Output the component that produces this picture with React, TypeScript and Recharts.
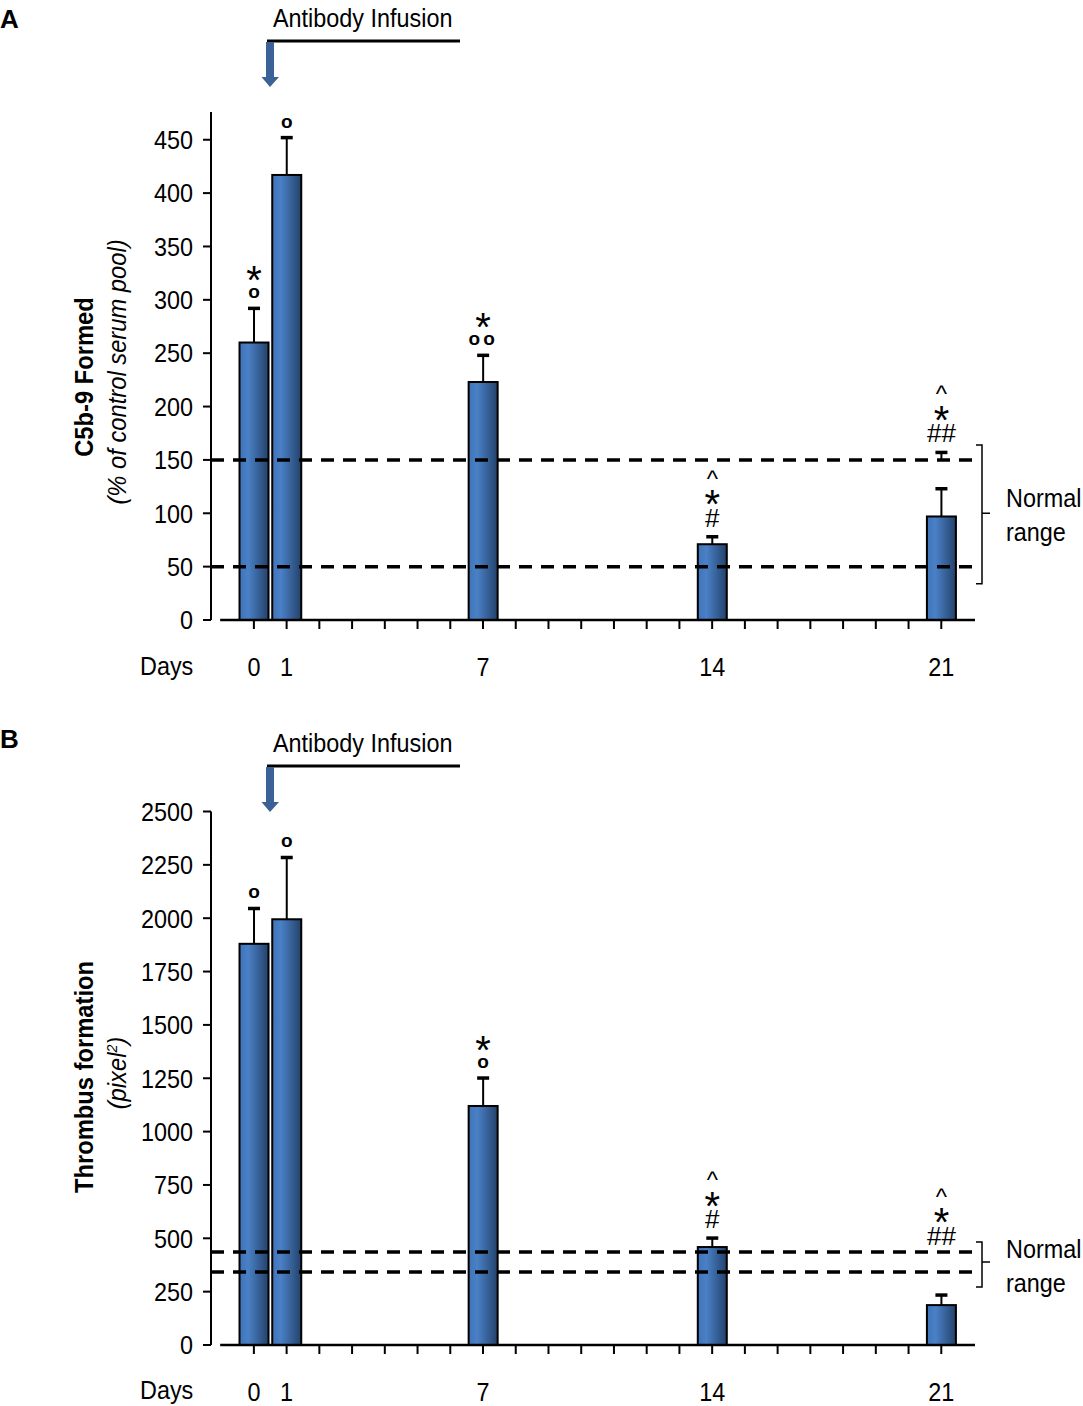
import React from 'react';
import { ComposedChart, Bar, XAxis, YAxis, ReferenceLine } from 'recharts';

const SANS = "'Liberation Sans', Arial, sans-serif";
const SQUEEZE = 0.9; // no narrow face installed, so squeeze Liberation Sans

// x axis
const days = [0, 1, 7, 14, 21];
const dayTicks = [0, 1, 2, 3, 4, 5, 6, 7, 8, 9, 10, 11, 12, 13, 14, 15, 16, 17, 18, 19, 20, 21];
const labeledDays = [0, 1, 7, 14, 21];

// panel A: C5b-9
const c5b9Mean = [260, 417, 223, 71, 97];
const c5b9Sem = [32, 35, 25, 7, 26];
const c5b9Marks = [['*', 'o'], ['o'], ['*', 'oo'], ['^', '*', '#'], ['^', '*', '##']];
const c5b9MarkBase = [292, 452, 248, 78, 157];
const c5b9ExtraCap = [null, null, null, null, 157];
const c5b9Normal = [50, 150];
const c5b9Ticks = [0, 50, 100, 150, 200, 250, 300, 350, 400, 450];

// panel B: thrombus
const thrombusMean = [1880, 1995, 1120, 459, 187];
const thrombusSem = [166, 290, 131, 42, 47];
const thrombusMarks = [['o'], ['o'], ['*', 'o'], ['^', '*', '#'], ['^', '*', '##']];
const thrombusMarkBase = [2046, 2285, 1251, 501, 422];
const thrombusExtraCap = [null, null, null, null, null];
const thrombusNormal = [342, 436];
const thrombusTicks = [0, 250, 500, 750, 1000, 1250, 1500, 1750, 2000, 2250, 2500];

type NTextProps = {
  x: number;
  y: number;
  children: React.ReactNode;
  size?: number;
  sx?: number;
  anchor?: 'start' | 'middle' | 'end';
  weight?: number;
  italic?: boolean;
  rotate?: boolean;
};

const NText = ({ x, y, children, size = 26, sx = SQUEEZE, anchor = 'start', weight = 400, italic, rotate }: NTextProps) => (
  <text
    transform={`translate(${x},${y})${rotate ? ' rotate(-90)' : ''} scale(${sx},1)`}
    textAnchor={anchor}
    fontSize={size}
    fontWeight={weight}
    fontStyle={italic ? 'italic' : 'normal'}
    fontFamily={SANS}
    fill="#000"
  >
    {children}
  </text>
);

const YTick = (props: any) => {
  const { x, y, payload } = props;
  return <NText x={x} y={y + 9.3} anchor="end">{payload.value}</NText>;
};

const XTick = (props: any) => {
  const { x, y, payload } = props;
  if (!labeledDays.includes(payload.value)) return <g />;
  return <NText x={x} y={y + 19} anchor="middle">{payload.value}</NText>;
};

const glyphStyle = (g: string) => {
  if (g === 'o' || g === 'oo') return { fontSize: 19, fontWeight: 700, shift: 5, first: 15 };
  if (g === '*') return { fontSize: 40, fontWeight: 400, shift: 22, first: 18 };
  if (g === '^') return { fontSize: 24, fontWeight: 400, shift: 12, first: 18 };
  return { fontSize: 26, fontWeight: 400, shift: 9, first: 19 };
};

const makeBarShape = (gradId: string) => (props: any) => {
  const { x, y, width, height, payload } = props;
  const ppu = height / payload.mean;
  const cx = x + width / 2;
  const zeroY = y + height;
  const errTop = y - payload.sem * ppu;
  const base = zeroY - payload.markBase * ppu;
  const marks: string[] = [...payload.marks].reverse();
  const first = glyphStyle(marks[0]).first;
  const extraY = payload.extraCap != null ? zeroY - payload.extraCap * ppu : 0;
  return (
    <g>
      <defs>
        <linearGradient id={gradId} x1="0" y1="0" x2="1" y2="0">
          <stop offset="0%" stopColor="#3f74b8" />
          <stop offset="30%" stopColor="#4a80c6" />
          <stop offset="100%" stopColor="#23426a" />
        </linearGradient>
      </defs>
      <line x1={cx} y1={y} x2={cx} y2={errTop} stroke="#000" strokeWidth={2} />
      <line x1={cx - 6} y1={errTop} x2={cx + 6} y2={errTop} stroke="#000" strokeWidth={3.5} />
      {payload.extraCap != null && (
        <g>
          <line x1={cx} y1={extraY} x2={cx} y2={extraY + 8} stroke="#000" strokeWidth={2} />
          <line x1={cx - 6} y1={extraY} x2={cx + 6} y2={extraY} stroke="#000" strokeWidth={3.5} />
        </g>
      )}
      <rect x={x} y={y} width={width} height={height} fill={`url(#${gradId})`} stroke="#000" strokeWidth={2} />
      {marks.map((g, i) => {
        const s = glyphStyle(g);
        const c = base - first - i * 21.5;
        return (
          <text
            key={i}
            x={cx}
            y={c + s.shift}
            textAnchor="middle"
            fontSize={s.fontSize}
            fontWeight={s.fontWeight}
            fontFamily={SANS}
            letterSpacing={g === 'oo' ? 3 : 0}
            fill="#000"
          >
            {g}
          </text>
        );
      })}
    </g>
  );
};

const BracketShape = (pad: [number, number]) => (props: any) => {
  const { x1, y1, y2 } = props;
  const top = Math.min(y1, y2) - pad[0];
  const bot = Math.max(y1, y2) + pad[1];
  const bx = x1 + 7;
  const mid = (Math.min(y1, y2) + Math.max(y1, y2)) / 2;
  return (
    <path
      d={`M${bx - 6},${top} L${bx},${top} L${bx},${bot} L${bx - 6},${bot} M${bx},${mid} L${bx + 8},${mid}`}
      fill="none"
      stroke="#000"
      strokeWidth={1.5}
    />
  );
};

type PanelProps = {
  id: string;
  top: number;
  height: number;
  marginTop: number;
  marginBottom: number;
  mean: number[];
  sem: number[];
  marks: string[][];
  markBase: number[];
  extraCap: (number | null)[];
  normal: number[];
  yTicks: number[];
  yMax: number;
  bracketPad: [number, number];
};

const Panel = (p: PanelProps) => {
  const rows = days.map((d, i) => ({
    day: d,
    mean: p.mean[i],
    sem: p.sem[i],
    marks: p.marks[i],
    markBase: p.markBase[i],
    extraCap: p.extraCap[i],
  }));
  return (
    <div style={{ position: 'absolute', left: 0, top: p.top }}>
      <ComposedChart
        width={1083}
        height={p.height}
        data={rows}
        margin={{ top: p.marginTop, right: 108, bottom: p.marginBottom, left: 0 }}
      >
        <XAxis
          type="number"
          dataKey="day"
          domain={[-1.31, 22.03]}
          allowDataOverflow
          ticks={dayTicks}
          interval={0}
          axisLine={false}
          tickLine={{ stroke: '#000', strokeWidth: 2 }}
          tickSize={9}
          tickMargin={28}
          height={60}
          tick={<XTick />}
        />
        <YAxis
          type="number"
          domain={[0, p.yMax]}
          allowDataOverflow
          ticks={p.yTicks}
          interval={0}
          axisLine={{ stroke: '#000', strokeWidth: 2 }}
          tickLine={{ stroke: '#000', strokeWidth: 2 }}
          tickSize={8}
          tickMargin={10}
          width={211}
          tick={<YTick />}
        />
        <ReferenceLine y={p.normal[0]} stroke="#000" strokeWidth={3.5} strokeDasharray="13 9" />
        <ReferenceLine y={p.normal[1]} stroke="#000" strokeWidth={3.5} strokeDasharray="13 9" />
        <ReferenceLine
          segment={[{ x: 22.03, y: p.normal[0] }, { x: 22.03, y: p.normal[1] }]}
          shape={BracketShape(p.bracketPad)}
        />
        <ReferenceLine
          segment={[{ x: -1.03, y: 0 }, { x: 22.03, y: 0 }]}
          stroke="#000"
          strokeWidth={2.5}
        />
        <Bar
          dataKey="mean"
          barSize={29}
          isAnimationActive={false}
          shape={makeBarShape(`grad-${p.id}`)}
        />
      </ComposedChart>
    </div>
  );
};

const Infusion = ({ top }: { top: number }) => (
  <g transform={`translate(0, ${top})`}>
    <NText x={273} y={27}>Antibody Infusion</NText>
    <line x1={267} y1={41} x2={460} y2={41} stroke="#000" strokeWidth={3} />
    <rect x={266} y={42} width={8} height={35} fill="#3a6296" />
    <polygon points="261.5,77 279,77 270,87" fill="#3a6296" />
  </g>
);

export default function App() {
  return (
    <div style={{ position: 'absolute', left: 0, top: 0, width: 1083, height: 1406, background: '#fff' }}>
      <Panel
        id="a"
        top={0}
        height={700}
        marginTop={112}
        marginBottom={20}
        mean={c5b9Mean}
        sem={c5b9Sem}
        marks={c5b9Marks}
        markBase={c5b9MarkBase}
        extraCap={c5b9ExtraCap}
        normal={c5b9Normal}
        yTicks={c5b9Ticks}
        yMax={476}
        bracketPad={[15, 17]}
      />
      <Panel
        id="b"
        top={720}
        height={686}
        marginTop={91.5}
        marginBottom={1}
        mean={thrombusMean}
        sem={thrombusSem}
        marks={thrombusMarks}
        markBase={thrombusMarkBase}
        extraCap={thrombusExtraCap}
        normal={thrombusNormal}
        yTicks={thrombusTicks}
        yMax={2500}
        bracketPad={[10, 15]}
      />
      <svg width={1083} height={1406} style={{ position: 'absolute', left: 0, top: 0, pointerEvents: 'none' }}>
        <text x={0} y={28} fontSize={26} fontWeight={700} fontFamily={SANS}>A</text>
        <text x={0} y={748} fontSize={26} fontWeight={700} fontFamily={SANS}>B</text>
        <Infusion top={0} />
        <Infusion top={725} />
        {/* y axis titles */}
        <NText x={93} y={377} rotate anchor="middle" size={25} sx={0.95} weight={700}>C5b-9 Formed</NText>
        <NText x={126} y={372} rotate anchor="middle" size={25} sx={0.95} italic>(% of control serum pool)</NText>
        <NText x={93} y={1077} rotate anchor="middle" size={25} sx={0.95} weight={700}>Thrombus formation</NText>
        <NText x={126} y={1073} rotate anchor="middle" size={25} sx={0.95} italic>
          (pixel<tspan fontSize={15} dy={-9}>2</tspan><tspan dy={9}>)</tspan>
        </NText>
        {/* Days labels */}
        <NText x={140} y={675}>Days</NText>
        <NText x={140} y={1399}>Days</NText>
        {/* Normal range */}
        <NText x={1006} y={507}>Normal</NText>
        <NText x={1006} y={541}>range</NText>
        <NText x={1006} y={1258}>Normal</NText>
        <NText x={1006} y={1292}>range</NText>
      </svg>
    </div>
  );
}
